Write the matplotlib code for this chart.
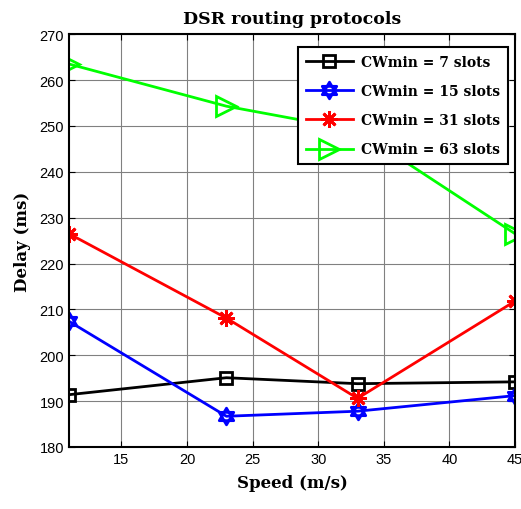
import matplotlib
matplotlib.use("Agg")
import matplotlib.pyplot as plt
from matplotlib.path import Path

# data
speed = [11, 23, 33, 45]
cw7 = [191.4, 195.1, 193.8, 194.2]
cw15 = [207.4, 186.7, 187.8, 191.2]
cw31 = [226.5, 208.1, 190.6, 211.8]
cw63 = [263.5, 254.3, 249.0, 226.5]
labels = ["CWmin = 7 slots", "CWmin = 15 slots", "CWmin = 31 slots", "CWmin = 63 slots"]

# hexagram marker (two overlaid triangles), like matlab 'h'
hexagram = Path(
    [(0, 1), (-0.866, -0.5), (0.866, -0.5), (0, 1),
     (0, -1), (-0.866, 0.5), (0.866, 0.5), (0, -1)],
    [Path.MOVETO, Path.LINETO, Path.LINETO, Path.CLOSEPOLY,
     Path.MOVETO, Path.LINETO, Path.LINETO, Path.CLOSEPOLY])

serif = {"family": "DejaVu Serif", "weight": "bold"}

fig = plt.figure(figsize=(5.21, 5.10), dpi=100)
ax = fig.add_axes([0.1324, 0.1216, 0.8561, 0.8094])

ax.plot(speed, cw7, color="black", lw=2, marker="s", ms=9, mfc="none", mew=2, label=labels[0])
ax.plot(speed, cw15, color="blue", lw=2, marker=hexagram, ms=12, mfc="none", mew=2, label=labels[1])
ax.plot(speed, cw31, color="red", lw=2, marker=(8, 2, 0), ms=12, mew=2, label=labels[2])
ax.plot(speed, cw63, color="#00ff00", lw=2, marker=">", ms=14, mfc="none", mew=2, label=labels[3])

ax.set_xlim(11, 45)
ax.set_ylim(180, 270)
ax.set_xticks([15, 20, 25, 30, 35, 40, 45])
ax.set_yticks(range(180, 271, 10))
ax.grid(True, color="#808080", lw=0.8)
ax.tick_params(direction="in", top=True, right=True, labelsize=10.5, length=4)
for t in ax.get_xticklabels() + ax.get_yticklabels():
    t.set_family("Liberation Sans")
for s in ax.spines.values():
    s.set_linewidth(1.5)

ax.set_title("DSR routing protocols", fontsize=12.5, pad=8, **serif)
ax.set_xlabel("Speed (m/s)", fontsize=12, labelpad=6, **serif)
ax.set_ylabel("Delay (ms)", fontsize=12, labelpad=6, **serif)

leg = ax.legend(loc="upper right", bbox_to_anchor=(0.984, 0.969), borderaxespad=0,
                fancybox=False, edgecolor="black", framealpha=1,
                prop={"family": "DejaVu Serif", "weight": "bold", "size": 10},
                handlelength=3.4, labelspacing=1.1,
                borderpad=0.55, handletextpad=0.6)
leg.get_frame().set_linewidth(1.5)

fig.savefig("out.png", dpi=100)
